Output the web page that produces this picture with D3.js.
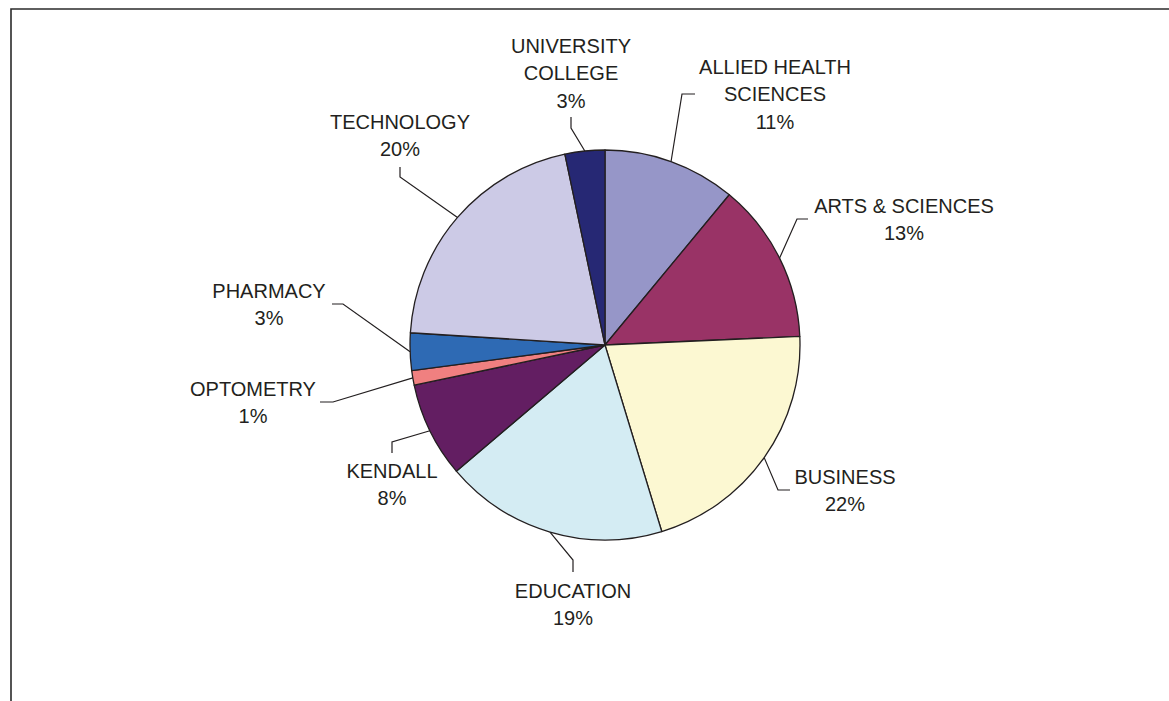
<!DOCTYPE html>
<html>
<head>
<meta charset="utf-8">
<script src="https://cdn.jsdelivr.net/npm/d3@7"></script>
<style>
  html, body { margin: 0; padding: 0; background: #fff; }
  svg { display: block; }
  text { font-family: "Liberation Sans", Arial, sans-serif; font-size: 20px; fill: #231f20; }
</style>
</head>
<body>
<svg id="chart" width="1169" height="701"></svg>
<script>
// Slices, clockwise from 12 o'clock
const colleges = ["ALLIED HEALTH SCIENCES", "ARTS & SCIENCES", "BUSINESS", "EDUCATION",
  "KENDALL", "OPTOMETRY", "PHARMACY", "TECHNOLOGY", "UNIVERSITY COLLEGE"];
const nameLines = [["ALLIED HEALTH", "SCIENCES"], ["ARTS & SCIENCES"], ["BUSINESS"], ["EDUCATION"],
  ["KENDALL"], ["OPTOMETRY"], ["PHARMACY"], ["TECHNOLOGY"], ["UNIVERSITY", "COLLEGE"]];
const shares = [11.0, 13.3, 21.0, 18.5, 7.9, 1.2, 3.1, 20.7, 3.3];
const pctLabels = ["11%", "13%", "22%", "19%", "8%", "1%", "3%", "20%", "3%"];
const colors = ["#9696c8", "#993366", "#fcf8d2", "#d4ecf3", "#631e62", "#f08080", "#2e6ab4", "#cccae6", "#262874"];

// label placement (text centre / first baseline, leader knee and end)
const labelLayout = [
  { x: 775, y: 74,  knee: [682, 94],  end: [695, 94] },
  { x: 904, y: 213, knee: [797, 219], end: [808, 219] },
  { x: 845, y: 484, knee: [778, 490], end: [790, 490] },
  { x: 573, y: 598, knee: [573, 560], end: [573, 572] },
  { x: 392, y: 478, knee: [392, 442], end: [392, 453] },
  { x: 253, y: 396, knee: [333, 402], end: [320, 402] },
  { x: 269, y: 298, knee: [343, 304], end: [332, 304] },
  { x: 400, y: 129, knee: [400, 177], end: [400, 167] },
  { x: 571, y: 53,  knee: [571, 128], end: [571, 117] }
];

const svg = d3.select("#chart");
const cx = 605, cy = 345, radius = 195;
const lineGap = 27.3;

// frame
svg.append("path")
  .attr("d", "M11,701V9H1169")
  .attr("fill", "none")
  .attr("stroke", "#2b2b2b")
  .attr("stroke-width", 1.6);

const pie = d3.pie().sort(null).value(d => d)(shares);
const arc = d3.arc().innerRadius(0).outerRadius(radius);
const edge = d3.arc().innerRadius(radius).outerRadius(radius);

const g = svg.append("g").attr("transform", `translate(${cx},${cy})`);

g.selectAll("path.slice")
  .data(pie)
  .join("path")
    .attr("class", "slice")
    .attr("d", arc)
    .attr("fill", (d, i) => colors[i])
    .attr("stroke", "#231f20")
    .attr("stroke-width", 1.3)
    .attr("stroke-linejoin", "round");

// leader lines
svg.selectAll("polyline.leader")
  .data(pie)
  .join("polyline")
    .attr("class", "leader")
    .attr("fill", "none")
    .attr("stroke", "#231f20")
    .attr("stroke-width", 1.2)
    .attr("points", (d, i) => {
      const [ex, ey] = edge.centroid(d);
      const L = labelLayout[i];
      return [[cx + ex, cy + ey], L.knee, L.end].map(p => p.join(",")).join(" ");
    });

// labels
const labels = svg.selectAll("text.label")
  .data(colleges)
  .join("text")
    .attr("class", "label")
    .attr("text-anchor", "middle")
    .attr("x", (d, i) => labelLayout[i].x)
    .attr("y", (d, i) => labelLayout[i].y);

labels.each(function(d, i) {
  const t = d3.select(this);
  const lines = nameLines[i].concat([pctLabels[i]]);
  lines.forEach((s, k) => {
    t.append("tspan")
      .attr("x", labelLayout[i].x)
      .attr("dy", k === 0 ? 0 : lineGap)
      .text(s);
  });
});
</script>
</body>
</html>
